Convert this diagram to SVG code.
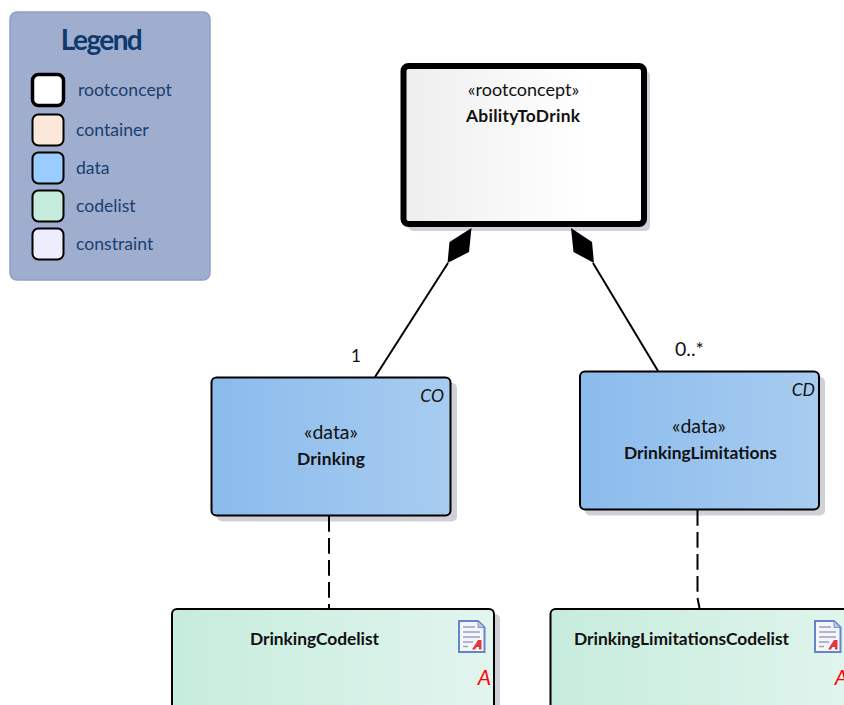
<svg xmlns="http://www.w3.org/2000/svg" width="844" height="705" viewBox="0 0 844 705">
<style>
text{font-family:"Lato","Carlito","Liberation Sans",sans-serif;fill:#111}
.c{text-anchor:middle}
.b{font-weight:700;font-size:17.400px}
.s{font-size:18px}
.d{font-size:19.500px}
.lg{font-size:17.600px;fill:#1a3f70}
.sw{stroke:#000;stroke-width:2}
.sh{fill:#cfd0d8}
.n{stroke:#000;stroke-width:2}
.i{font-style:italic;font-size:17.500px}
.con{fill:none;stroke:#000;stroke-width:2}
.dash{stroke-dasharray:15.700 6.300}
</style>
<defs>
<linearGradient id="gb"><stop offset="0" stop-color="#8bbbec"/><stop offset="1" stop-color="#a8ccf0"/></linearGradient>
<linearGradient id="gg"><stop offset="0" stop-color="#c6ecdd"/><stop offset="1" stop-color="#e2f5ee"/></linearGradient>
<linearGradient id="gw"><stop offset="0" stop-color="#eeeeee"/><stop offset="0.45" stop-color="#f8f8f8"/><stop offset="0.75" stop-color="#ffffff"/></linearGradient>
<g id="doc">
<path d="M1 1H20L26.500 7.500V32H1Z" fill="#f4f6fc" stroke="#6485c8" stroke-width="2"/>
<path d="M20 1V7.500H26.500Z" fill="#b9c9ea" stroke="#6485c8" stroke-width="0.800"/>
<path d="M5 7H17M5 12H22M5 17H22M5 22H15M5 26.500H10" stroke="#9a9fc0" stroke-width="1.500" fill="none"/>
<path d="M14 29.500L20 20H23.500V29.500H21V27H18.500L17 29.500Z" fill="#e03a40"/>
</g>
</defs>

<g id="legend">
<rect x="10" y="12" width="200" height="268" rx="7" fill="#9fadcf" stroke="#8e9ec6" stroke-width="1.500"/>
<text x="101" y="50" class="c" style="font-size:28px;font-weight:700;fill:#0f3a6c;letter-spacing:-1.600px">Legend</text>
<rect class="sw" x="32.500" y="74.500" width="31" height="31" rx="6" fill="#fff" style="stroke-width:3.500"/>
<rect class="sw" x="32.500" y="114.500" width="31" height="31" rx="6" fill="#fbe8da"/>
<rect class="sw" x="32.500" y="152.500" width="31" height="31" rx="6" fill="#99ccff"/>
<rect class="sw" x="32.500" y="190.500" width="31" height="31" rx="6" fill="#c6ecdd"/>
<rect class="sw" x="32.500" y="228.500" width="31" height="31" rx="6" fill="#ecedff"/>
<text class="lg" x="78" y="96">rootconcept</text>
<text class="lg" x="76" y="136">container</text>
<text class="lg" x="76" y="174">data</text>
<text class="lg" x="76" y="212">codelist</text>
<text class="lg" x="76" y="250">constraint</text>
</g>

<g id="AbilityToDrink">
<rect class="sh" x="408" y="71" width="242" height="160" rx="5"/>
<rect x="403.500" y="66" width="240.500" height="158" rx="5" fill="url(#gw)" stroke="#000" stroke-width="6"/>
<text class="c s" x="523.500" y="96">«rootconcept»</text>
<text class="c b" x="523" y="122" textLength="114">AbilityToDrink</text>
</g>

<g id="Drinking">
<rect class="sh" x="217" y="383" width="240" height="138.500" rx="5"/>
<rect class="n" x="211.500" y="377.500" width="239" height="138" rx="5" fill="url(#gb)"/>
<text class="c d" x="331" y="439">«data»</text>
<text class="c b" x="331" y="465" textLength="68">Drinking</text>
<text class="i" x="444" y="402" text-anchor="end">CO</text>
</g>

<g id="DrinkingLimitations">
<rect class="sh" x="585" y="377" width="240" height="138.500" rx="5"/>
<rect class="n" x="580" y="371.500" width="239" height="138" rx="5" fill="url(#gb)"/>
<text class="c d" x="699" y="433">«data»</text>
<text class="c b" x="700.500" y="459" textLength="153">DrinkingLimitations</text>
<text class="i" x="815" y="396" text-anchor="end">CD</text>
</g>

<g id="DrinkingCodelist">
<rect class="sh" x="177" y="614" width="323" height="100" rx="5"/>
<rect class="n" x="172" y="609" width="322" height="104" rx="5" fill="url(#gg)"/>
<text class="c b" x="314.500" y="645" textLength="129">DrinkingCodelist</text>
<use href="#doc" x="458" y="620"/>
<text x="491" y="685" text-anchor="end" style="font-style:italic;font-size:21px;fill:#f00">A</text>
</g>

<g id="DrinkingLimitationsCodelist">
<rect class="sh" x="556" y="614" width="323" height="100" rx="5"/>
<rect class="n" x="550.500" y="609" width="322" height="104" rx="5" fill="url(#gg)"/>
<text class="c b" x="681.500" y="645" textLength="215">DrinkingLimitationsCodelist</text>
<use href="#doc" x="814" y="620"/>
<text x="848" y="685" text-anchor="end" style="font-style:italic;font-size:21px;fill:#f00">A</text>
</g>

<g id="connectors">
<path d="M471.500 228L449.500 242L447.500 263L469 252Z" fill="#000"/>
<path d="M571 228L592 242L594 263L573.500 252Z" fill="#000"/>
<path class="con" d="M448 263L375 377"/>
<path class="con" d="M593 263L658 371"/>
<path class="con dash" d="M329 516V608"/>
<path class="con dash" d="M697.500 510V598L699.500 608"/>
<text x="351" y="362" style="font-size:17px">1</text>
<text x="675" y="356" style="font-size:19.500px">0..*</text>
</g>
</svg>
